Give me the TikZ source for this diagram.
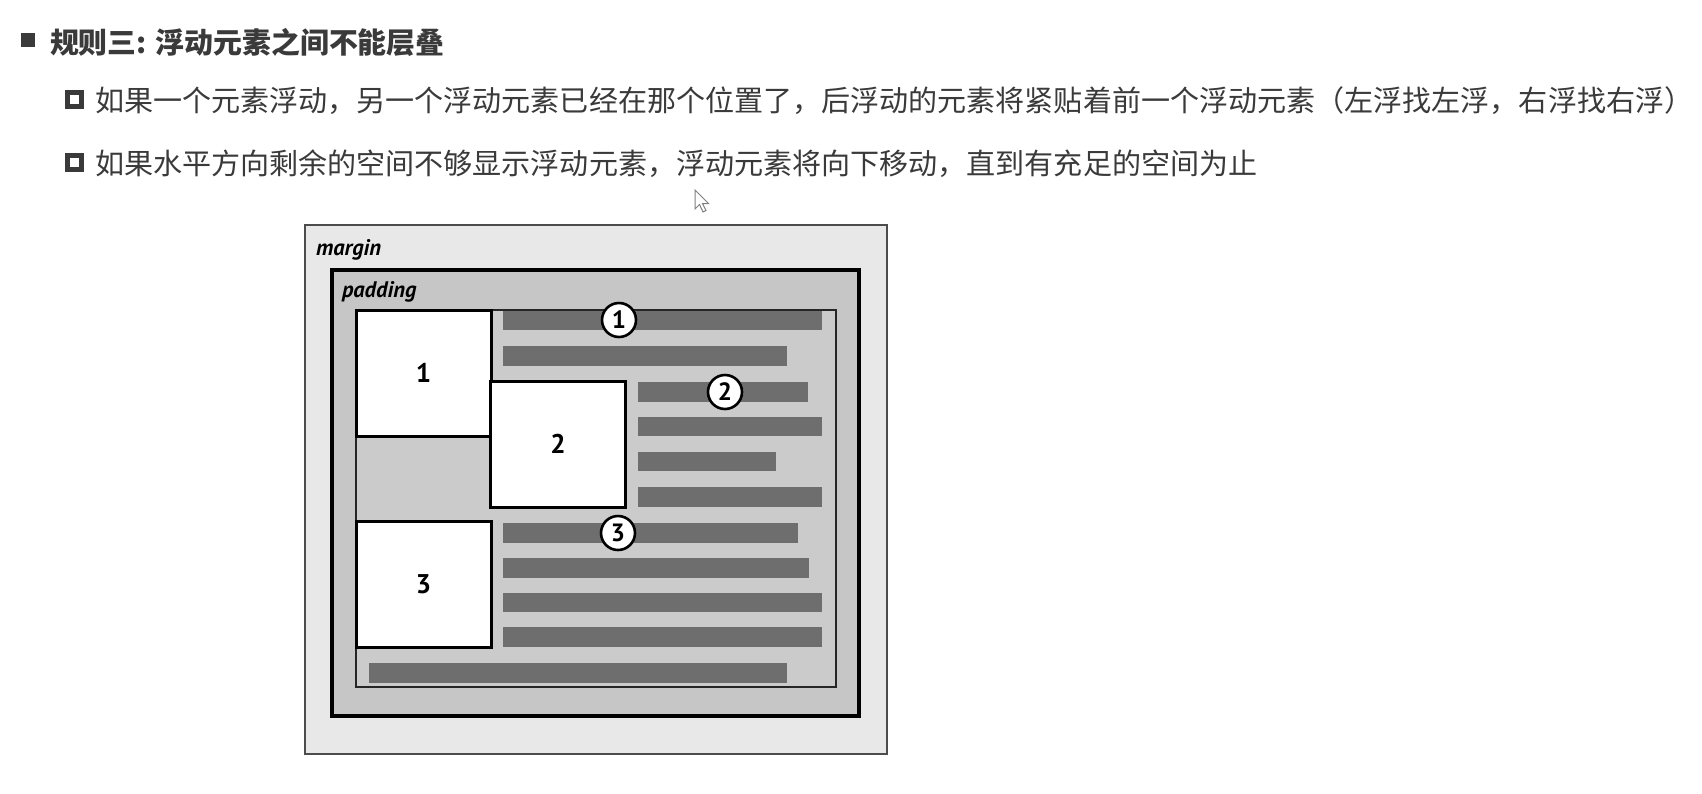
\documentclass[tikz,border=0pt]{standalone}
\usepackage{fontspec}
\setmainfont{Liberation Sans}
\newfontfamily\cjk{Noto Sans CJK SC}
\newfontfamily\diag{PT Sans}
\usepackage{xcolor}
\usetikzlibrary{positioning}
\definecolor{inkgray}{HTML}{3A3A3A}
\definecolor{margingray}{HTML}{E8E8E8}
\definecolor{padgray}{HTML}{C6C6C6}
\definecolor{contentgray}{HTML}{CBCBCB}
\definecolor{bargray}{HTML}{6E6E6E}
\newcommand{\cjktext}{\cjk\fontsize{29.06}{34}\selectfont}
\newcommand{\cjktitle}{\cjk\bfseries\fontsize{28.9}{34}\selectfont}

\begin{document}
\begin{tikzpicture}[x=1pt,y=-1pt,every node/.style={inner sep=0pt,outer sep=0pt},
  floatbox/.style={draw=black,line width=3pt,fill=white,minimum width=135pt,minimum height=126pt,font=\diag\bfseries\fontsize{27}{27}\selectfont},
  textbar/.style={fill=bargray},
  callout/.style={circle,draw=black,line width=2.6pt,fill=white,minimum size=34pt,font=\diag\bfseries\fontsize{25}{25}\selectfont},
  boxlabel/.style={anchor=base west,font=\diag\bfseries\itshape\fontsize{22.5}{22}\selectfont},
  bullettext/.style={anchor=west,text=inkgray,font=\cjktext}]
\fill[white] (0,0) rectangle (1702,793);
\useasboundingbox (0,0) rectangle (1702,793);
\fill[inkgray] (21,33) rectangle (35,47);
\node[anchor=west,text=inkgray,font=\cjktitle] (rule) at (50,42.5) {规则三: 浮动元素之间不能层叠};
\draw[inkgray,line width=4.5pt] (67.5,92.5) rectangle (81.5,106.5);
\node[bullettext] (first) at (95,100.5) {如果一个元素浮动，另一个浮动元素已经在那个位置了，后浮动的元素将紧贴着前一个浮动元素（左浮找左浮，右浮找右浮）};
\draw[inkgray,line width=4.5pt] (67.5,155.5) rectangle (81.5,169.5);
\node[bullettext] (second) at (95,163.5) {如果水平方向剩余的空间不够显示浮动元素，浮动元素将向下移动，直到有充足的空间为止};
\draw[fill=white,draw=gray,line width=1pt] (695,190) -- (695,209) -- (699.5,204.5) -- (703,212) -- (706,210.5) -- (702.5,203.5) -- (708.5,203.5) -- cycle;
\draw[fill=margingray,draw=black!70,line width=1.6pt] (305,225) rectangle (887,754);
\draw[fill=padgray,draw=black,line width=3.5pt] (332,270) rectangle (859,716);
\draw[fill=contentgray,draw=black!85,line width=1.8pt] (356,310) rectangle (836,687);
\node[boxlabel] (margin) at (316,255) {margin};
\node[boxlabel] (padding) at (342,297) {padding};
\foreach \xa/\ya/\xb/\yb in {503/311/822/330,503/346/787/366,638/382/808/402,638/417/822/436,638/452/776/471,638/487/822/507,503/523/798/543,503/558/809/578,503/593/822/612,503/627/822/647,369/663/787/683}
  \fill[textbar] (\xa,\ya) rectangle (\xb,\yb);
\node[floatbox] (box1) at (423.5,373) {1};
\node[floatbox] (box2) at (558,444) {2};
\node[floatbox] (box3) at (423.5,584.5) {3};
\node[callout] (c1) at (619,320) {1};
\node[callout] (c2) at (725,392) {2};
\node[callout] (c3) at (618,533) {3};
\end{tikzpicture}
\end{document}
